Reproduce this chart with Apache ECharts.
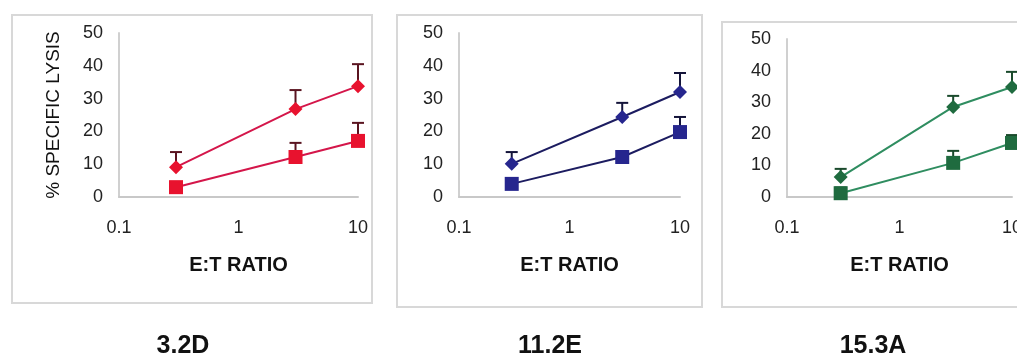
<!DOCTYPE html>
<html>
<head>
<meta charset="utf-8">
<script src="https://cdn.jsdelivr.net/npm/echarts@6/dist/echarts.min.js"></script>
<style>
html,body{margin:0;padding:0;background:#fff;}
#chart{width:1017px;height:361px;}
</style>
</head>
<body>
<div id="chart"></div>
<script>
// ---- data ----
const ratios = [0.3, 3, 10];
const panelNames = ['3.2D', '11.2E', '15.3A'];
const xTickLabels = ['0.1', '1', '10'];
const yTickLabels = [0, 10, 20, 30, 40, 50];

const p1Diamond = [9.1, 26.8, 33.8];
const p1DiamondTop = [13.7, 32.6, 40.5];
const p1Square = [3.0, 12.2, 17.1];
const p1SquareTop = [4.5, 16.5, 22.6];

const p2Diamond = [10.1, 24.4, 32.0];
const p2DiamondTop = [13.7, 28.7, 37.8];
const p2Square = [4.0, 12.2, 19.8];
const p2SquareTop = [5.0, 13.5, 24.4];

const p3Diamond = [6.3, 28.5, 34.8];
const p3DiamondTop = [8.9, 32.0, 39.6];
const p3Square = [1.2, 10.8, 17.1];
const p3SquareTop = [3.0, 14.6, 19.6];

const FONT = '"Liberation Sans", Arial, sans-serif';

const panels = [
  {diamond: p1Diamond, dTop: p1DiamondTop, square: p1Square, sTop: p1SquareTop,
   line: '#d4164a', marker: '#e8122e', err: '#5a1420',
   grid: {left: 119, top: 33, width: 239, height: 164}, box: [12, 15, 360, 288], title: 183, yName: true},
  {diamond: p2Diamond, dTop: p2DiamondTop, square: p2Square, sTop: p2SquareTop,
   line: '#1c1c60', marker: '#26268e', err: '#14143a',
   grid: {left: 459, top: 33, width: 221, height: 164}, box: [397, 15, 305, 292], title: 550, yName: false},
  {diamond: p3Diamond, dTop: p3DiamondTop, square: p3Square, sTop: p3SquareTop,
   line: '#2f8d60', marker: '#1f6b3f', err: '#1a4a2c',
   grid: {left: 787, top: 39, width: 225, height: 158}, box: [722, 22, 320, 285], title: 873, yName: false}
];

function pairs(xs, ys) { return xs.map((x, i) => [x, ys[i]]); }
function triples(xs, ys, ts) { return xs.map((x, i) => [x, ys[i], ts[i]]); }

const grids = [], xAxes = [], yAxes = [], series = [], graphics = [];

panels.forEach((p, i) => {
  grids.push(Object.assign({containLabel: false, outerBoundsMode: 'none'}, p.grid));
  xAxes.push({
    type: 'log', logBase: 10, min: 0.1, max: 10, gridIndex: i,
    axisLine: {show: true, lineStyle: {color: '#c8c8c8', width: 2}},
    axisTick: {show: false}, splitLine: {show: false}, minorTick: {show: false},
    axisLabel: {color: '#222', fontFamily: FONT, fontSize: 18, margin: 22,
      formatter: v => { const s = xTickLabels.find(t => Math.abs(parseFloat(t) - v) < 1e-9); return s !== undefined ? s : ''; }},
    name: 'E:T RATIO', nameLocation: 'middle', nameGap: 58,
    nameTextStyle: {color: '#111', fontFamily: FONT, fontSize: 20, fontWeight: 'bold'}
  });
  yAxes.push({
    type: 'value', min: 0, max: 50, interval: 10, gridIndex: i,
    axisLine: {show: true, lineStyle: {color: '#d0d0d0', width: 2}},
    axisTick: {show: false}, splitLine: {show: false},
    axisLabel: {color: '#222', fontFamily: FONT, fontSize: 18, margin: 16,
      formatter: v => yTickLabels.includes(v) ? String(v) : ''},
    name: p.yName ? '% SPECIFIC LYSIS' : '', nameLocation: 'middle', nameGap: 56, nameRotate: 90,
    nameTextStyle: {color: '#111', fontFamily: FONT, fontSize: 19}
  });

  const errSeries = (xs, ys, ts) => ({
    type: 'custom', xAxisIndex: i, yAxisIndex: i, z: 1, silent: true,
    data: triples(xs, ys, ts),
    renderItem: (params, api) => {
      const x = api.value(0), y = api.value(1), t = api.value(2);
      const a = api.coord([x, y]), b = api.coord([x, t]);
      const st = {stroke: p.err, lineWidth: 2};
      return {type: 'group', children: [
        {type: 'line', shape: {x1: a[0], y1: a[1], x2: b[0], y2: b[1]}, style: st},
        {type: 'line', shape: {x1: b[0] - 6, y1: b[1], x2: b[0] + 6, y2: b[1]}, style: st}
      ]};
    }
  });
  series.push(errSeries(ratios, p.diamond, p.dTop));
  series.push(errSeries(ratios, p.square, p.sTop));
  series.push({
    type: 'line', xAxisIndex: i, yAxisIndex: i, z: 3, data: pairs(ratios, p.diamond),
    symbol: 'diamond', symbolSize: 14, lineStyle: {color: p.line, width: 2},
    itemStyle: {color: p.marker, borderWidth: 0}, animation: false
  });
  series.push({
    type: 'line', xAxisIndex: i, yAxisIndex: i, z: 3, data: pairs(ratios, p.square),
    symbol: 'rect', symbolSize: 14, lineStyle: {color: p.line, width: 2},
    itemStyle: {color: p.marker, borderWidth: 0}, animation: false
  });

  graphics.push({type: 'rect', z: -10, shape: {x: p.box[0], y: p.box[1], width: p.box[2], height: p.box[3]},
    style: {fill: 'none', stroke: '#d8d8d8', lineWidth: 2}});
  graphics.push({type: 'text', x: p.title, y: 346, style: {text: panelNames[i], fill: '#111',
    font: 'bold 25px ' + FONT, textAlign: 'center', textVerticalAlign: 'middle'}});
});

const chart = echarts.init(document.getElementById('chart'), null, {renderer: 'canvas'});
chart.setOption({
  animation: false,
  backgroundColor: '#ffffff',
  grid: grids, xAxis: xAxes, yAxis: yAxes, series: series, graphic: graphics
});
</script>
</body>
</html>
